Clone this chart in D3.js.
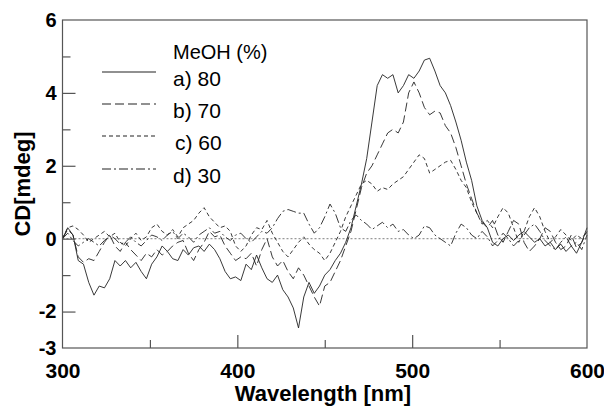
<!DOCTYPE html>
<html>
<head>
<meta charset="utf-8">
<script src="https://cdn.jsdelivr.net/npm/d3@7"></script>
<style>
  body { margin: 0; background: #fff; }
  text { font-family: "Liberation Sans", Arial, sans-serif; }
</style>
</head>
<body>
<svg id="chart" width="604" height="407"></svg>
<script>
// wavelength grid, 3 nm steps from 300 to 600
var wavelengths = d3.range(300, 601, 3);

// a) 80 % MeOH
var cdA = [0.0, 0.3, 0.1, -0.6, -0.7, -1.2, -1.55, -1.3, -1.35, -1.1,
  -0.6, -0.75, -0.6, -0.8, -0.65, -0.9, -1.1, -0.7, -0.5, -0.2,
  -0.35, -0.55, -0.6, -0.3, -0.45, -0.25, -0.2, -0.35, -0.15, -0.3,
  -0.55, -0.9, -1.1, -1.05, -1.15, -0.7, -0.85, -0.45, -0.8, -1.1,
  -1.2, -1.0, -1.4, -1.6, -1.9, -2.45, -1.6, -1.2, -1.5, -1.3,
  -1.0, -0.85, -0.6, -0.4, -0.1, 0.3, 0.9, 1.5, 2.2, 3.2,
  4.2, 4.5, 4.4, 4.5, 4.0, 4.2, 4.5, 4.4, 4.6, 4.9,
  4.95, 4.6, 4.2, 4.0, 3.65, 3.2, 2.7, 2.1, 1.6, 0.9,
  0.5, 0.3, -0.1, -0.2, 0.0, 0.1, -0.05, 0.1, 0.2, 0.05,
  -0.1, 0.0, -0.2, -0.1, -0.3, -0.15, -0.35, -0.2, -0.4, -0.1, 0.3];

// b) 70 % MeOH
var cdB = [0.0, 0.25, 0.1, -0.5, -0.65, -0.55, -0.6, -0.35, -0.1, 0.1,
  -0.2, -0.35, -0.1, -0.3, -0.45, -0.6, -0.4, -0.5, -0.3, -0.45,
  -0.35, -0.2, -0.1, -0.05, -0.4, -0.6, -0.3, -0.1, 0.2, 0.05,
  0.1, -0.2, -0.4, -0.6, -0.5, -0.55, -0.4, -0.75, -0.3, 0.0,
  -0.5, -0.75, -0.6, -0.9, -1.1, -0.8, -1.0, -1.3, -1.6, -1.85,
  -1.3, -1.2, -0.9, -0.6, -0.2, 0.2, 0.8, 1.4, 1.8, 2.0,
  2.3, 2.6, 2.9, 3.0, 2.9, 3.2, 4.0, 4.3, 4.0, 3.6,
  3.4, 3.5, 3.45, 3.1, 2.9, 2.5, 2.0, 1.5, 1.1, 0.7,
  0.45, 0.3, 0.5, 0.1, -0.1, 0.2, 0.5, 0.4, -0.1, -0.35,
  -0.2, 0.0, 0.3, 0.2, -0.1, -0.3, -0.2, 0.1, -0.25, -0.1, 0.2];

// c) 60 % MeOH
var cdC = [0.0, 0.3, 0.35, 0.25, 0.1, -0.1, 0.0, 0.1, 0.2, 0.05,
  0.15, -0.1, -0.2, 0.0, 0.15, -0.05, 0.05, 0.3, 0.4, 0.2,
  0.1, 0.25, 0.05, 0.3, 0.4, 0.5, 0.7, 0.85, 0.6, 0.45,
  0.3, 0.35, 0.2, -0.2, -0.35, -0.2, 0.1, 0.3, 0.25, 0.5,
  0.15, -0.1, -0.35, -0.5, -0.3, -0.1, 0.05, -0.15, -0.3, -0.4,
  -0.6, -0.4, -0.1, 0.2, 0.6, 0.9, 1.2, 1.5, 1.6, 1.5,
  1.3, 1.4, 1.35, 1.5, 1.6, 1.7, 1.9, 2.1, 2.3, 2.2,
  1.8, 1.9, 2.0, 2.1, 2.15, 1.9, 1.6, 1.4, 1.0, 0.7,
  0.4, 0.5, 0.3, 0.6, 0.85, 0.7, 0.3, -0.1, 0.2, 0.6,
  0.85, 0.6, 0.2, -0.1, 0.05, 0.25, 0.1, -0.05, 0.1, 0.0, 0.2];

// d) 30 % MeOH
var cdD = [0.0, 0.15, -0.05, -0.2, -0.1, 0.0, -0.1, -0.2, -0.05, 0.1,
  0.0, -0.15, -0.1, 0.05, -0.1, -0.2, -0.05, 0.1, 0.05, -0.05,
  0.1, 0.2, 0.0, 0.15, 0.05, -0.1, 0.1, 0.2, 0.3, 0.15,
  0.2, 0.05, -0.05, 0.1, 0.15, 0.0, -0.1, 0.05, 0.2, 0.15,
  0.3, 0.55, 0.75, 0.8, 0.75, 0.7, 0.7, 0.4, 0.15, 0.3,
  0.6, 0.95, 0.7, 0.3, 0.2, 0.5, 0.65, 0.5, 0.4, 0.25,
  0.35, 0.45, 0.3, 0.4, 0.2, 0.25, 0.1, 0.0, 0.1, 0.35,
  0.3, 0.1, 0.0, -0.1, -0.2, 0.15, 0.4, 0.3, 0.1, 0.0,
  0.2, 0.05, -0.2, -0.05, 0.15, 0.0, -0.2, -0.05, 0.1, 0.3,
  0.4, 0.2, -0.05, -0.2, -0.3, -0.1, 0.05, -0.2, -0.1, -0.3, 0.1];

var seriesLabels = ["a) 80", "b) 70", "c) 60", "d) 30"];
var seriesDash = ["none", "9,4", "4,3", "9,3,2,3"];
var legendTitle = "MeOH (%)";

var yTickValues = [-3, -2, -1, 0, 1, 2, 3, 4, 5, 6];
var yLabelled = [-3, -2, 0, 2, 4, 6];
var xTickValues = [300, 350, 400, 450, 500, 550, 600];
var xLabelled = [300, 400, 500, 600];

var margin = {left: 62.5, right: 17, top: 20, bottom: 59};
var width = 604, height = 407;

var svg = d3.select("#chart");

var x = d3.scaleLinear().domain([300, 600]).range([margin.left, width - margin.right]);
var y = d3.scaleLinear().domain([-3, 6]).range([height - margin.bottom, margin.top]);

var allSeries = [cdA, cdB, cdC, cdD];

// zero reference line
svg.append("line")
  .attr("x1", x(300)).attr("x2", x(600))
  .attr("y1", y(0)).attr("y2", y(0))
  .attr("stroke", "#999")
  .attr("stroke-width", 1.2)
  .attr("stroke-dasharray", "2,2");

var line = d3.line()
  .x((d, i) => x(wavelengths[i]))
  .y(d => y(d));

svg.append("g").selectAll("path")
  .data(allSeries)
  .join("path")
  .attr("d", line)
  .attr("fill", "none")
  .attr("stroke", "#222")
  .attr("stroke-width", 0.9)
  .attr("stroke-dasharray", (d, i) => seriesDash[i]);

// frame
svg.append("rect")
  .attr("x", x(300)).attr("y", y(6))
  .attr("width", x(600) - x(300)).attr("height", y(-3) - y(6))
  .attr("fill", "none").attr("stroke", "#555").attr("stroke-width", 1.2);

// y axis, ticks pointing into the plot
var yAxis = svg.append("g")
  .attr("transform", "translate(" + x(300) + ",0)")
  .call(d3.axisLeft(y).tickValues(yTickValues).tickSize(-13).tickPadding(6)
    .tickFormat(d => yLabelled.indexOf(d) >= 0 ? d3.format("d")(d) : ""));
yAxis.select(".domain").remove();
yAxis.selectAll(".tick line")
  .attr("stroke", "#555").attr("stroke-width", 1.2)
  .attr("x2", d => (d === -3 || d === 6) ? 0 : (d % 2 === 0 ? 13 : 8));
yAxis.selectAll(".tick text")
  .attr("fill", "#000").attr("font-size", 20).attr("font-weight", "bold")
  .text(d => yLabelled.indexOf(d) >= 0 ? (d < 0 ? "-" + Math.abs(d) : d) : "");

// x axis, ticks pointing into the plot
var xAxis = svg.append("g")
  .attr("transform", "translate(0," + y(-3) + ")")
  .call(d3.axisBottom(x).tickValues(xTickValues).tickSize(-13).tickPadding(15)
    .tickFormat(d => xLabelled.indexOf(d) >= 0 ? d : ""));
xAxis.select(".domain").remove();
xAxis.selectAll(".tick line")
  .attr("stroke", "#555").attr("stroke-width", 1.2)
  .attr("y2", d => (d === 300 || d === 600) ? 0 : (d % 100 === 0 ? -13 : -8));
xAxis.selectAll(".tick text")
  .attr("fill", "#000").attr("font-size", 21).attr("font-weight", "bold");

// axis titles
svg.append("text")
  .attr("x", 323).attr("y", 401)
  .attr("text-anchor", "middle")
  .attr("font-size", 22).attr("font-weight", "bold")
  .text("Wavelength [nm]");

svg.append("text")
  .attr("transform", "translate(30,184) rotate(-90)")
  .attr("text-anchor", "middle")
  .attr("font-size", 22).attr("font-weight", "bold")
  .text("CD[mdeg]");

// legend
var legend = svg.append("g");
legend.append("text")
  .attr("x", 173).attr("y", 59)
  .attr("font-size", 20)
  .text(legendTitle);

var legendY = [72, 104, 136, 169];
seriesLabels.forEach(function (lab, i) {
  legend.append("line")
    .attr("x1", 102).attr("x2", 156)
    .attr("y1", legendY[i]).attr("y2", legendY[i])
    .attr("stroke", "#222").attr("stroke-width", 1.2)
    .attr("stroke-dasharray", seriesDash[i]);
  legend.append("text")
    .attr("x", i === 2 ? 175 : 173).attr("y", legendY[i] + 14)
    .attr("font-size", 21)
    .text(lab);
});
</script>
</body>
</html>
